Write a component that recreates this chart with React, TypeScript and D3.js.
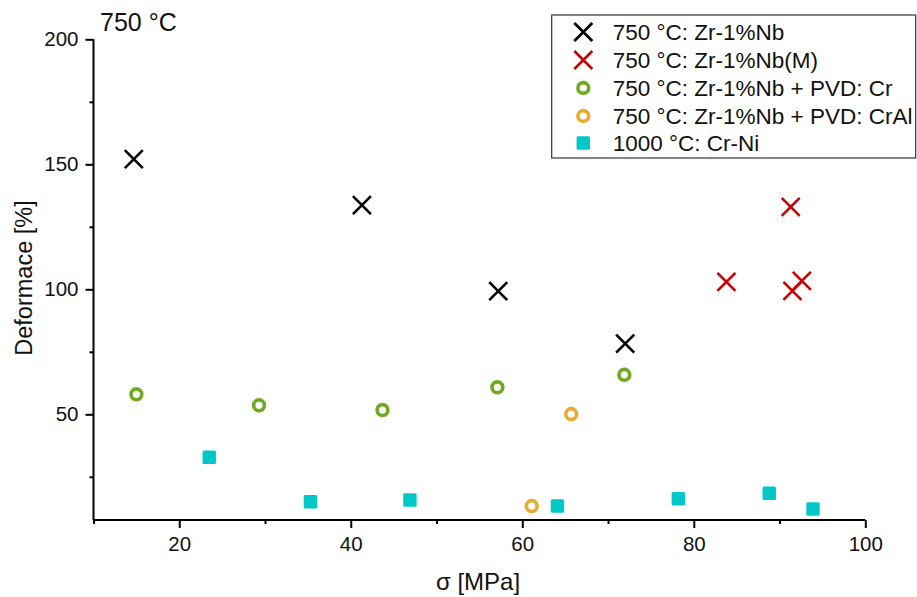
import React, { useEffect, useRef } from "react";
import * as d3 from "d3";

const zrNbX = [14.7, 41.3, 57.2, 72.0];
const zrNbY = [152.1, 133.7, 99.3, 78.3];
const zrNbMX = [83.8, 91.3, 92.6, 91.5];
const zrNbMY = [103.0, 133.0, 103.4, 99.4];
const pvdCrX = [15.0, 29.3, 43.7, 57.1, 71.9];
const pvdCrY = [58.0, 53.6, 51.7, 60.8, 65.8];
const pvdCrAlX = [65.7, 61.1];
const pvdCrAlY = [50.1, 13.3];
const crNiX = [23.5, 35.3, 46.9, 64.1, 78.2, 88.8, 93.9];
const crNiY = [32.8, 15.0, 15.7, 13.3, 16.2, 18.4, 12.1];

const xMajor = [20, 40, 60, 80, 100];
const xMinor = [10, 30, 50, 70, 90];
const yMajor = [50, 100, 150, 200];
const yMinor = [25, 75, 125, 175];

const legendLabels = [
  "750 °C: Zr-1%Nb",
  "750 °C: Zr-1%Nb(M)",
  "750 °C: Zr-1%Nb + PVD: Cr",
  "750 °C: Zr-1%Nb + PVD: CrAl",
  "1000 °C: Cr-Ni",
];

const FONT = "Liberation Sans, Arial, sans-serif";
const C_BLACK = "#000000";
const C_RED = "#CC0000";
const C_GREEN = "#6EAA1F";
const C_ORANGE = "#E8AB2E";
const C_CYAN = "#00C8C8";

export default function App() {
  const ref = useRef<SVGSVGElement>(null);
  useEffect(() => {
    const svg = d3.select(ref.current);
    svg.selectAll("*").remove();
    const x = d3.scaleLinear().domain([10, 100]).range([93.5, 865.3]);
    const y = d3.scaleLinear().domain([7.72, 200]).range([520, 39.3]);

    const gx = svg.append("g").attr("transform", "translate(0,520)");
    gx.call(
      d3.axisBottom(x).tickValues(xMajor).tickSize(8).tickPadding(8).tickFormat(d3.format("d")) as any
    );
    const gxm = svg.append("g").attr("transform", "translate(0,520)");
    gxm.call(d3.axisBottom(x).tickValues(xMinor).tickSize(4).tickFormat(() => "") as any);
    gxm.select(".domain").remove();

    const gy = svg.append("g").attr("transform", "translate(93.5,0)");
    gy.call(
      d3.axisLeft(y).tickValues(yMajor).tickSize(8).tickPadding(7).tickFormat(d3.format("d")) as any
    );
    const gym = svg.append("g").attr("transform", "translate(93.5,0)");
    gym.call(d3.axisLeft(y).tickValues(yMinor).tickSize(4).tickFormat(() => "") as any);
    gym.select(".domain").remove();

    svg.selectAll(".domain").attr("stroke", "#000").attr("stroke-width", 2);
    gx.select(".domain").attr("d", `M93.5,0H865.3`);
    gy.select(".domain").attr("d", `M0,520V39.3`);
    svg.selectAll(".tick line").attr("stroke", "#000").attr("stroke-width", 2);
    svg
      .selectAll(".tick text")
      .attr("font-family", FONT)
      .attr("font-size", 20.5)
      .attr("fill", "#111");

    svg
      .append("text")
      .attr("x", 478)
      .attr("y", 590)
      .attr("text-anchor", "middle")
      .attr("font-family", FONT)
      .attr("font-size", 24)
      .attr("fill", "#111")
      .text("σ [MPa]");
    svg
      .append("text")
      .attr("transform", "translate(32,278) rotate(-90)")
      .attr("text-anchor", "middle")
      .attr("font-family", FONT)
      .attr("font-size", 23.5)
      .attr("fill", "#111")
      .text("Deformace [%]");
    svg
      .append("text")
      .attr("x", 100)
      .attr("y", 31)
      .attr("font-family", FONT)
      .attr("font-size", 25)
      .attr("fill", "#111")
      .text("750 °C");

    const cross = (g: any, cx: number, cy: number, color: string) => {
      const s = 9;
      g.append("path")
        .attr("d", `M${cx - s},${cy - s}L${cx + s},${cy + s}M${cx - s},${cy + s}L${cx + s},${cy - s}`)
        .attr("stroke", color)
        .attr("stroke-width", 2.6)
        .attr("fill", "none");
    };
    const circ = (g: any, cx: number, cy: number, color: string) => {
      g.append("circle")
        .attr("cx", cx)
        .attr("cy", cy)
        .attr("r", 5.4)
        .attr("fill", "#fff")
        .attr("stroke", color)
        .attr("stroke-width", 3.6);
    };
    const sq = (g: any, cx: number, cy: number, color: string) => {
      g.append("rect")
        .attr("x", cx - 6.7)
        .attr("y", cy - 6.7)
        .attr("width", 13.4)
        .attr("height", 13.4)
        .attr("rx", 1.5)
        .attr("fill", color);
    };

    const pts = svg.append("g");
    crNiX.forEach((v, i) => sq(pts, x(v), y(crNiY[i]), C_CYAN));
    pvdCrX.forEach((v, i) => circ(pts, x(v), y(pvdCrY[i]), C_GREEN));
    pvdCrAlX.forEach((v, i) => circ(pts, x(v), y(pvdCrAlY[i]), C_ORANGE));
    zrNbX.forEach((v, i) => cross(pts, x(v), y(zrNbY[i]), C_BLACK));
    zrNbMX.forEach((v, i) => cross(pts, x(v), y(zrNbMY[i]), C_RED));

    const lg = svg.append("g");
    lg.append("rect")
      .attr("x", 551.7)
      .attr("y", 15)
      .attr("width", 364)
      .attr("height", 143)
      .attr("fill", "#fff")
      .attr("stroke", "#333")
      .attr("stroke-width", 1.2);
    const rowY = [32, 60, 88, 116, 143];
    const mk = [
      (cy: number) => cross(lg, 583.3, cy, C_BLACK),
      (cy: number) => cross(lg, 583.3, cy, C_RED),
      (cy: number) => circ(lg, 583.3, cy, C_GREEN),
      (cy: number) => circ(lg, 583.3, cy, C_ORANGE),
      (cy: number) => sq(lg, 583.3, cy, C_CYAN),
    ];
    legendLabels.forEach((t, i) => {
      mk[i](rowY[i]);
      lg.append("text")
        .attr("x", 612.7)
        .attr("y", rowY[i] + 7.5)
        .attr("font-family", FONT)
        .attr("font-size", 22.5)
        .attr("fill", "#111")
        .text(t);
    });
  }, []);
  return (
    <svg
      ref={ref}
      width={917}
      height={597}
      style={{ position: "absolute", left: 0, top: 0, background: "#fff" }}
    />
  );
}
